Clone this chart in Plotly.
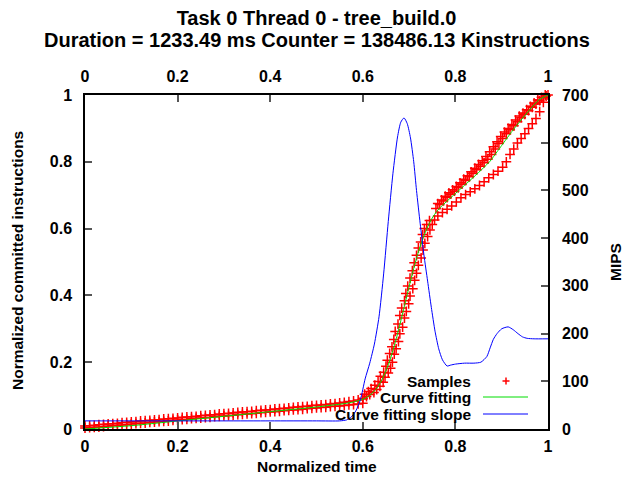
import plotly.graph_objects as go

# ---------------- data ----------------
# Samples: dense low band (two rows sharing the same times)
band_t = [0.00, 0.01, 0.02, 0.03, 0.04, 0.05, 0.06, 0.07, 0.08, 0.09,
          0.10, 0.11, 0.12, 0.13, 0.14, 0.15, 0.16, 0.17, 0.18, 0.19,
          0.20, 0.21, 0.22, 0.23, 0.24, 0.25, 0.26, 0.27, 0.28, 0.29,
          0.30, 0.31, 0.32, 0.33, 0.34, 0.35, 0.36, 0.37, 0.38, 0.39,
          0.40, 0.41, 0.42, 0.43, 0.44, 0.45, 0.46, 0.47, 0.48, 0.49,
          0.50, 0.51, 0.52, 0.53, 0.54, 0.55, 0.56, 0.57, 0.58, 0.59, 0.60]
band_low = [0.003, 0.004, 0.005, 0.006, 0.007, 0.009, 0.010, 0.011, 0.012, 0.013,
            0.015, 0.016, 0.017, 0.018, 0.020, 0.021, 0.022, 0.023, 0.024, 0.026,
            0.027, 0.028, 0.029, 0.031, 0.032, 0.033, 0.034, 0.035, 0.037, 0.038,
            0.039, 0.040, 0.041, 0.043, 0.044, 0.045, 0.046, 0.047, 0.049, 0.050,
            0.051, 0.052, 0.053, 0.055, 0.056, 0.057, 0.058, 0.059, 0.061, 0.062,
            0.063, 0.064, 0.065, 0.067, 0.068, 0.069, 0.070, 0.072, 0.073, 0.075, 0.077]
band_high = [0.009, 0.010, 0.011, 0.013, 0.014, 0.015, 0.016, 0.017, 0.019, 0.020,
             0.021, 0.022, 0.024, 0.025, 0.026, 0.027, 0.028, 0.030, 0.031, 0.032,
             0.033, 0.035, 0.036, 0.037, 0.038, 0.040, 0.041, 0.042, 0.043, 0.045,
             0.046, 0.047, 0.048, 0.050, 0.051, 0.052, 0.053, 0.055, 0.056, 0.057,
             0.058, 0.060, 0.061, 0.062, 0.063, 0.065, 0.066, 0.067, 0.068, 0.070,
             0.071, 0.072, 0.073, 0.075, 0.076, 0.078, 0.080, 0.082, 0.084, 0.087, 0.090]

# Samples: steep rise
rise_t = [0.600, 0.608, 0.604, 0.615, 0.612, 0.624, 0.618, 0.630, 0.626, 0.637,
          0.633, 0.644, 0.638, 0.648, 0.645, 0.655, 0.650, 0.660, 0.653, 0.664,
          0.658, 0.668, 0.663, 0.672, 0.667, 0.677, 0.670, 0.680, 0.676, 0.686,
          0.680, 0.690, 0.684, 0.694, 0.690, 0.699, 0.693, 0.702, 0.697, 0.708,
          0.702, 0.712, 0.707, 0.716, 0.711, 0.720, 0.716, 0.726, 0.720, 0.730,
          0.725, 0.734, 0.729, 0.740, 0.733, 0.745, 0.738, 0.750, 0.744, 0.755]
rise_v = [0.092, 0.097, 0.104, 0.103, 0.112, 0.109, 0.121, 0.118, 0.131, 0.128,
          0.142, 0.140, 0.158, 0.155, 0.170, 0.168, 0.188, 0.182, 0.206, 0.200,
          0.226, 0.224, 0.246, 0.240, 0.268, 0.262, 0.292, 0.285, 0.314, 0.305,
          0.340, 0.332, 0.362, 0.352, 0.384, 0.375, 0.406, 0.398, 0.428, 0.420,
          0.452, 0.445, 0.474, 0.466, 0.498, 0.490, 0.520, 0.512, 0.542, 0.536,
          0.560, 0.556, 0.582, 0.576, 0.600, 0.596, 0.612, 0.612, 0.624, 0.626]

# Samples: main upper strand
main_t = [0.758, 0.766, 0.774, 0.782, 0.790, 0.798, 0.806, 0.814, 0.822, 0.830,
          0.838, 0.846, 0.854, 0.862, 0.870, 0.878, 0.886, 0.894, 0.902, 0.910,
          0.918, 0.926, 0.934, 0.942, 0.950, 0.958, 0.966, 0.974, 0.982, 0.990,
          0.996, 1.000,
          0.762, 0.770, 0.778, 0.786, 0.794, 0.802, 0.810, 0.818, 0.826, 0.834,
          0.842, 0.850, 0.858, 0.866, 0.874, 0.882, 0.890, 0.898, 0.906, 0.914,
          0.922, 0.930, 0.938, 0.946, 0.954, 0.962, 0.970, 0.978, 0.986, 0.994]
main_v = [0.660, 0.672, 0.683, 0.693, 0.703, 0.712, 0.722, 0.733, 0.744, 0.755,
          0.765, 0.776, 0.787, 0.797, 0.808, 0.822, 0.838, 0.855, 0.870, 0.884,
          0.896, 0.908, 0.920, 0.932, 0.942, 0.953, 0.963, 0.973, 0.983, 0.992,
          0.997, 1.000,
          0.675, 0.686, 0.697, 0.707, 0.716, 0.726, 0.737, 0.748, 0.758, 0.770,
          0.781, 0.792, 0.803, 0.816, 0.830, 0.845, 0.860, 0.876, 0.889, 0.900,
          0.912, 0.925, 0.937, 0.946, 0.956, 0.966, 0.976, 0.985, 0.993, 1.000]

# Samples: lower strand
lower_t = [0.762, 0.772, 0.782, 0.792, 0.802, 0.812, 0.822, 0.832, 0.842, 0.852,
           0.862, 0.872, 0.882, 0.892, 0.902, 0.910, 0.918, 0.926, 0.934, 0.942,
           0.950, 0.958, 0.966, 0.974, 0.982, 0.990]
lower_v = [0.638, 0.648, 0.658, 0.668, 0.680, 0.692, 0.702, 0.710, 0.719, 0.729,
           0.740, 0.752, 0.762, 0.772, 0.784, 0.800, 0.822, 0.838, 0.856, 0.870,
           0.884, 0.900, 0.914, 0.930, 0.950, 0.978]

# Curve fitting (normalized committed instructions)
fit_t = [0.00, 0.10, 0.20, 0.30, 0.40, 0.50, 0.56, 0.58, 0.60, 0.61, 0.62, 0.63,
         0.64, 0.65, 0.66, 0.67, 0.68, 0.69, 0.70, 0.71, 0.72, 0.73, 0.74, 0.75,
         0.76, 0.77, 0.78, 0.80, 0.82, 0.84, 0.86, 0.875, 0.89, 0.90, 0.91, 0.92,
         0.93, 0.94, 0.96, 0.98, 1.00]
fit_v = [0.000, 0.010, 0.024, 0.038, 0.052, 0.066, 0.076, 0.081, 0.089, 0.096,
         0.107, 0.122, 0.144, 0.174, 0.212, 0.259, 0.312, 0.369, 0.426, 0.481,
         0.530, 0.571, 0.605, 0.632, 0.652, 0.667, 0.680, 0.705, 0.730, 0.755,
         0.781, 0.802, 0.830, 0.849, 0.868, 0.887, 0.905, 0.922, 0.955, 0.985, 1.000]

# Curve fitting slope (MIPS)
slope_t = [0.00, 0.10, 0.20, 0.30, 0.40, 0.50, 0.55, 0.565, 0.575, 0.585,
           0.595, 0.605, 0.615, 0.625, 0.635, 0.645, 0.655, 0.665, 0.675, 0.682,
           0.689, 0.696, 0.703, 0.710, 0.716, 0.724, 0.732, 0.740, 0.748, 0.756,
           0.764, 0.772, 0.782, 0.790, 0.800, 0.820, 0.840, 0.855, 0.868, 0.875,
           0.882, 0.890, 0.900, 0.914, 0.925, 0.935, 0.945, 0.955, 0.970, 1.00]
slope_mips = [17, 17, 17, 17, 17, 17, 17, 19, 25, 38,
              62, 105, 138, 178, 235, 325, 435, 535, 612, 643,
              652, 640, 610, 560, 500, 430, 365, 310, 255, 205,
              168, 145, 132, 134, 136, 138, 138, 140, 152, 170,
              188, 200, 210, 214, 208, 200, 193, 190, 189, 189]

x_ticks = [0, 0.2, 0.4, 0.6, 0.8, 1]
x_tick_text = ["0", "0.2", "0.4", "0.6", "0.8", "1"]
y2_ticks = [0, 100, 200, 300, 400, 500, 600, 700]
y2_tick_text = ["0", "100", "200", "300", "400", "500", "600", "700"]

legend_names = ["Samples", "Curve fitting", "Curve fitting slope"]

title_line1 = "Task 0 Thread 0 - tree_build.0"
title_line2 = "Duration = 1233.49 ms Counter = 138486.13 Kinstructions"

# ---------------- figure ----------------
sample_t = band_t + band_t + rise_t + main_t + lower_t
sample_v = band_low + band_high + rise_v + main_v + lower_v

RED = "#ff0000"
GREEN = "#00dd00"
BLUE = "#0000ff"
FONT = "Liberation Sans, Arial, sans-serif"

fig = go.Figure()
fig.add_trace(go.Scatter(
    x=sample_t, y=sample_v, mode="markers", name=legend_names[0],
    marker=dict(symbol="cross-thin", size=7, color=RED,
                line=dict(color=RED, width=1.5)),
    cliponaxis=False, showlegend=False))
fig.add_trace(go.Scatter(
    x=fit_t, y=fit_v, mode="lines", name=legend_names[1],
    line=dict(color=GREEN, width=1, shape="spline", smoothing=0.6),
    showlegend=False))
fig.add_trace(go.Scatter(
    x=slope_t, y=slope_mips, mode="lines", name=legend_names[2],
    line=dict(color=BLUE, width=1, shape="spline", smoothing=0.6),
    xaxis="x2", yaxis="y2", showlegend=False))

tickfont = dict(family=FONT, size=16, color="black", weight="bold")
common = dict(showgrid=False, zeroline=False, showline=True,
              linecolor="black", linewidth=1.5, ticks="inside",
              ticklen=7, tickwidth=1.5, tickcolor="#555555",
              tickfont=tickfont)

fig.update_layout(
    width=624, height=478, autosize=False,
    margin=dict(l=85, r=76, t=95, b=49, pad=0),
    paper_bgcolor="white", plot_bgcolor="white",
    font=dict(family=FONT, size=15, color="black", weight="bold"),
    title=dict(text=title_line1, x=0.5, xref="paper", xanchor="center",
               y=1 - 18 / 478, yref="container", yanchor="middle",
               font=dict(family=FONT, size=20, color="black", weight="bold")),
    xaxis=dict(range=[0, 1], tickvals=x_ticks, ticktext=x_tick_text,
               ticklabelstandoff=2, anchor="y", **common),
    xaxis2=dict(range=[0, 1], tickvals=x_ticks, ticktext=x_tick_text,
                overlaying="x", side="top", anchor="y2",
                ticklabelstandoff=5, **common),
    yaxis=dict(range=[0, 1], tickvals=x_ticks, ticktext=x_tick_text,
               ticklabelstandoff=8, anchor="x", **common),
    yaxis2=dict(range=[0, 700], tickvals=y2_ticks, ticktext=y2_tick_text,
                overlaying="y", side="right", anchor="x2",
                ticklabelstandoff=9, **common),
    showlegend=False,
)

# second title line
fig.add_annotation(text=title_line2, xref="paper", yref="paper",
                   x=0.5, y=(429 - 40) / 334, xanchor="center",
                   yanchor="middle", showarrow=False,
                   font=dict(size=20, weight="bold"))

# axis titles
fig.add_annotation(text="Normalized time", xref="paper", yref="paper",
                   x=0.5, y=-37 / 334, xanchor="center", yanchor="middle",
                   showarrow=False, font=dict(size=15.5))
fig.add_annotation(text="Normalized committed instructions", xref="paper",
                   yref="paper", x=-67 / 463, y=0.503, textangle=-90,
                   xanchor="center", yanchor="middle", showarrow=False,
                   font=dict(size=15.5))
fig.add_annotation(text="MIPS", xref="paper", yref="paper",
                   x=1 + 67 / 463, y=0.5, textangle=-90,
                   xanchor="center", yanchor="middle", showarrow=False,
                   font=dict(size=15.5))

# gnuplot-style key (text right-aligned, sample to the right)
key_rows = [48 / 334, 32 / 334, 15 / 334]
key_text_x = 388 / 463
key_line_x0, key_line_x1 = 398 / 463, 443 / 463
cross_x = 421 / 463
for name, yk in zip(legend_names, key_rows):
    fig.add_annotation(text=name, xref="paper", yref="paper", x=key_text_x,
                       y=yk, xanchor="right", yanchor="middle",
                       showarrow=False, font=dict(size=15.5))
fig.add_shape(type="line", xref="paper", yref="paper",
              x0=cross_x - 3.5 / 463, x1=cross_x + 3.5 / 463,
              y0=key_rows[0], y1=key_rows[0], line=dict(color=RED, width=1.5))
fig.add_shape(type="line", xref="paper", yref="paper",
              x0=cross_x, x1=cross_x,
              y0=key_rows[0] - 3.5 / 334, y1=key_rows[0] + 3.5 / 334,
              line=dict(color=RED, width=1.5))
fig.add_shape(type="line", xref="paper", yref="paper",
              x0=key_line_x0, x1=key_line_x1, y0=key_rows[1], y1=key_rows[1],
              line=dict(color=GREEN, width=1))
fig.add_shape(type="line", xref="paper", yref="paper",
              x0=key_line_x0, x1=key_line_x1, y0=key_rows[2], y1=key_rows[2],
              line=dict(color=BLUE, width=1))

fig.write_html("out.html")
